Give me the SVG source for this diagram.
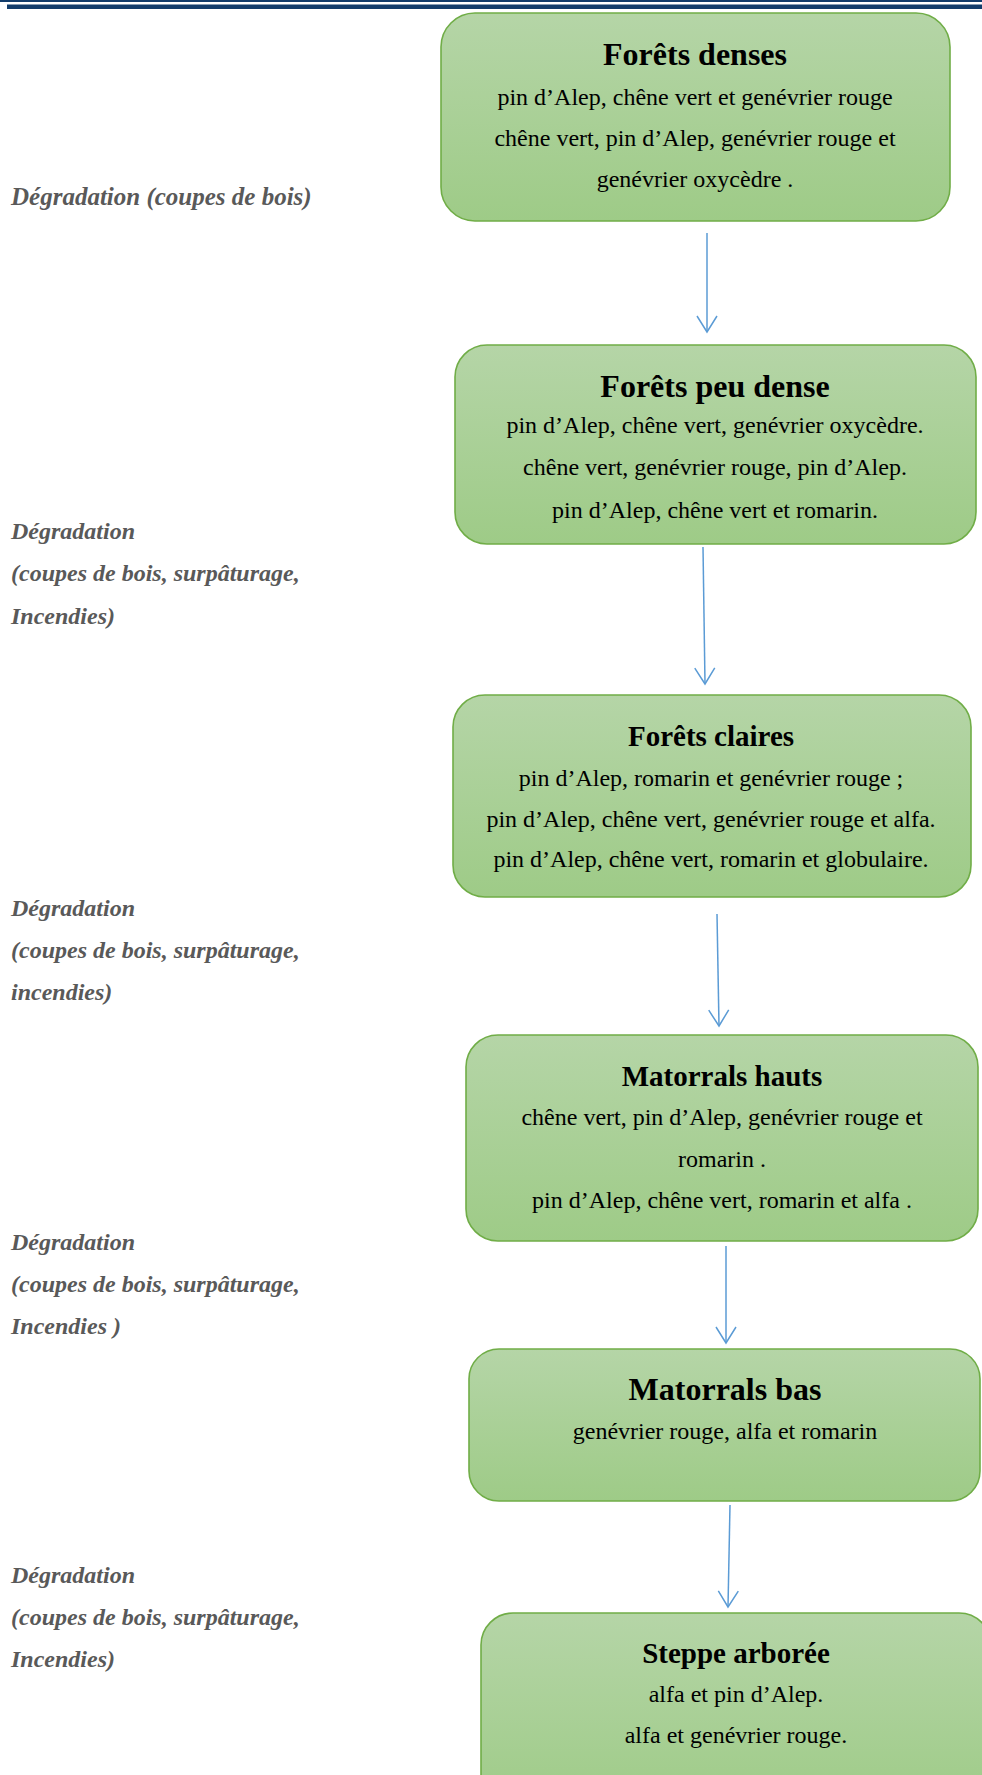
<svg xmlns="http://www.w3.org/2000/svg" width="982" height="1775" viewBox="0 0 982 1775">
<defs>
<linearGradient id="g" x1="0" y1="0" x2="0" y2="1">
<stop offset="0" stop-color="#b5d5a7"/>
<stop offset="1" stop-color="#9ecb87"/>
</linearGradient>
<marker id="ah" markerUnits="userSpaceOnUse" markerWidth="40" markerHeight="40" refX="0" refY="0" viewBox="-20 -20 40 40" orient="auto" overflow="visible">
<path d="M-16,-10 L0,0 L-16,10" fill="none" stroke="#5b9bd5" stroke-width="1.5"/>
</marker>
</defs>
<style>
.box{fill:url(#g);stroke:#70ad47;stroke-width:1.6}
.t1{font-family:"Liberation Serif","Times New Roman",serif;font-weight:bold;font-size:32px;fill:#000;text-anchor:middle}
.t2{font-family:"Liberation Serif","Times New Roman",serif;font-weight:bold;font-size:29px;fill:#000;text-anchor:middle}
.b{font-family:"Liberation Serif","Times New Roman",serif;font-size:24px;fill:#000;text-anchor:middle}
.lab{font-family:"Liberation Serif","Times New Roman",serif;font-weight:bold;font-style:italic;font-size:24px;fill:#595959}
.con{fill:none;stroke:#5b9bd5;stroke-width:1.5;marker-end:url(#ah)}
</style>
<rect width="982" height="1775" fill="#fff"/>
<g id="header">
<rect x="0" y="0" width="982" height="2" fill="#123c6b"/>
<rect x="7" y="4.5" width="975" height="4.5" fill="#123c6b"/>
</g>
<g id="labels">
<text class="lab" x="11" y="205" style="font-size:25px">Dégradation (coupes de bois)</text>
<text class="lab" x="11" y="539">Dégradation</text>
<text class="lab" x="11" y="581">(coupes de bois, surpâturage,</text>
<text class="lab" x="11" y="624">Incendies)</text>
<text class="lab" x="11" y="916">Dégradation</text>
<text class="lab" x="11" y="958">(coupes de bois, surpâturage,</text>
<text class="lab" x="11" y="1000">incendies)</text>
<text class="lab" x="11" y="1250">Dégradation</text>
<text class="lab" x="11" y="1292">(coupes de bois, surpâturage,</text>
<text class="lab" x="11" y="1334">Incendies )</text>
<text class="lab" x="11" y="1583">Dégradation</text>
<text class="lab" x="11" y="1625">(coupes de bois, surpâturage,</text>
<text class="lab" x="11" y="1667">Incendies)</text>
</g>
<g id="connectors">
<path class="con" d="M707,233 L707,332"/>
<path class="con" d="M703,547 L705,684"/>
<path class="con" d="M717,914 L719,1026"/>
<path class="con" d="M726,1246 L726,1343"/>
<path class="con" d="M730,1505 L728,1607"/>
</g>
<g id="n1">
<rect class="box" x="441" y="13" width="509" height="208" rx="34"/>
<text class="t1" x="695" y="65">Forêts denses</text>
<text class="b" x="695" y="105">pin d’Alep, chêne vert et genévrier rouge</text>
<text class="b" x="695" y="146">chêne vert, pin d’Alep, genévrier rouge et</text>
<text class="b" x="695" y="187">genévrier oxycèdre .</text>
</g>
<g id="n2">
<rect class="box" x="455" y="345" width="521" height="199" rx="32"/>
<text class="t1" x="715" y="397">Forêts peu dense</text>
<text class="b" x="715" y="433">pin d’Alep, chêne vert, genévrier oxycèdre.</text>
<text class="b" x="715" y="475">chêne vert, genévrier rouge, pin d’Alep.</text>
<text class="b" x="715" y="518">pin d’Alep, chêne vert et romarin.</text>
</g>
<g id="n3">
<rect class="box" x="453" y="695" width="518" height="202" rx="32"/>
<text class="t2" x="711" y="746">Forêts claires</text>
<text class="b" x="711" y="786">pin d’Alep, romarin et genévrier rouge ;</text>
<text class="b" x="711" y="827">pin d’Alep, chêne vert, genévrier rouge et alfa.</text>
<text class="b" x="711" y="867">pin d’Alep, chêne vert, romarin et globulaire.</text>
</g>
<g id="n4">
<rect class="box" x="466" y="1035" width="512" height="206" rx="32"/>
<text class="t2" x="722" y="1086">Matorrals hauts</text>
<text class="b" x="722" y="1125">chêne vert, pin d’Alep, genévrier rouge et</text>
<text class="b" x="722" y="1167">romarin .</text>
<text class="b" x="722" y="1208">pin d’Alep, chêne vert, romarin et alfa .</text>
</g>
<g id="n5">
<rect class="box" x="469" y="1349" width="511" height="152" rx="30"/>
<text class="t1" x="725" y="1400">Matorrals bas</text>
<text class="b" x="725" y="1439">genévrier rouge, alfa et romarin</text>
</g>
<g id="n6">
<rect class="box" x="481" y="1613" width="510" height="200" rx="32"/>
<text class="t2" x="736" y="1663">Steppe arborée</text>
<text class="b" x="736" y="1702">alfa et pin d’Alep.</text>
<text class="b" x="736" y="1743">alfa et genévrier rouge.</text>
</g>
</svg>
